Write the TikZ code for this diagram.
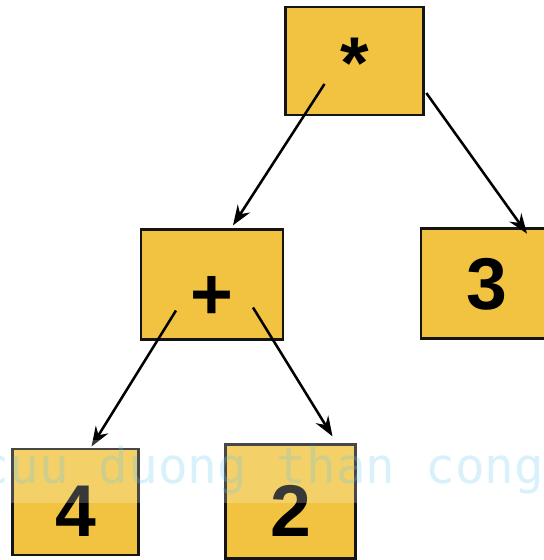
\documentclass[tikz,border=0pt]{standalone}
\usepackage{fontspec}
\setmainfont{Liberation Sans}
\newfontfamily\wmfont{DejaVu Sans Mono}
\usetikzlibrary{arrows.meta,calc}

\begin{document}
\begin{tikzpicture}[x=0.75pt,y=0.75pt,yscale=-1,xscale=1,
	opbox/.style={draw={rgb, 255:red, 20; green, 20; blue, 20 },line width=2.2pt,fill={rgb, 255:red, 241; green, 195; blue, 64 },
		font=\fontsize{55}{60}\selectfont\bfseries,text height=52pt,text depth=0pt,inner sep=0pt},
	link/.style={line width=1.9pt,-{Stealth[length=15pt,width=11pt,inset=5pt]}}]
				%set diagram size to 543 x 560
				\useasboundingbox (0,0) rectangle (543,560);
				
				%Shape: Rectangle [id:mul] 
				\node [opbox,minimum width=104pt,minimum height=81pt,text height=42pt] (mul) at (354.5,61) {*};
				%Shape: Rectangle [id:plus] 
				\node [opbox,minimum width=106.5pt,minimum height=82pt] (plus) at (212,284.5) {+};
				%Shape: Rectangle [id:three] 
				\node [opbox,minimum width=99pt,minimum height=83pt,text height=39pt] (three) at (487,283.5) {3};
				%Shape: Rectangle [id:four] 
				\node [opbox,minimum width=95pt,minimum height=79.5pt] (four) at (75.5,502) {4};
				%Shape: Rectangle [id:two] 
				\node [opbox,minimum width=97pt,minimum height=85pt] (two) at (290.5,501.5) {2};
				
				%Straight Lines [id:arrows] 
				\draw [link] ($(mul)+(-30,23)$) -- ($(plus.north)+(21,-3)$);
				\draw [link] ($(mul.east)+(1,32)$) -- ($(three.north)+(40,7)$);
				\draw [link] ($(plus)+(-36,26)$) -- ($(four.north)+(16,-1)$);
				\draw [link] ($(plus)+(41,23)$) -- ($(two.north)+(42,-7)$);
				
				%Shape: Rectangle [id:band] 
				\fill [white,fill opacity=0.22] (0,440) rectangle (543,503);
				% Text Node
				\node [anchor=base,inner sep=0pt,text={rgb, 255:red, 100; green, 200; blue, 240 },text opacity=0.25,font=\wmfont\fontsize{37}{40}\selectfont] (mark) at (262,483) {cuu duong than cong};
				
			\end{tikzpicture}
\end{document}
